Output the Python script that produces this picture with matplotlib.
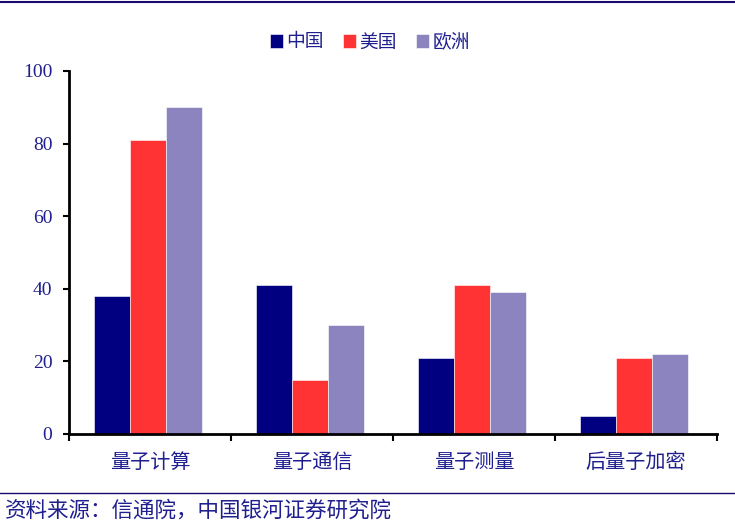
import numpy as np
import matplotlib
matplotlib.use("Agg")
import matplotlib.pyplot as plt
from matplotlib.lines import Line2D

# --- Data ---
categories = ["量子计算", "量子通信", "量子测量", "后量子加密"]
series_names = ["中国", "美国", "欧洲"]
china = [38, 41, 21, 5]
usa = [81, 15, 41, 21]
europe = [90, 30, 39, 22]
y_ticks = [0, 20, 40, 60, 80, 100]

colors = ["#000080", "#FF3333", "#8B84BF"]
text_color = "#1F1F8F"
cjk = ["Noto Sans CJK SC", "DejaVu Sans"]

fig = plt.figure(figsize=(7.35, 5.27), dpi=100)
ax = fig.add_axes([69 / 735, 1 - 434 / 527, (717 - 69) / 735, (434 - 71) / 527])

x = np.arange(len(categories))
w = 0.222
for i, (vals, name) in enumerate(zip([china, usa, europe], series_names)):
    ax.bar(x - 0.01 + (i - 1) * w, vals, width=w, color=colors[i], label=name,
           edgecolor="white", linewidth=0.4)

ax.set_xlim(-0.5, len(categories) - 0.5)
ax.set_ylim(0, 100)
ax.set_yticks(y_ticks)
ax.set_yticklabels([str(v) for v in y_ticks], fontfamily="Liberation Serif",
                   fontsize=14, color=text_color)
# category ticks sit on the boundaries, labels in between
ax.set_xticks(np.arange(len(categories) + 1) - 0.5)
ax.set_xticklabels([])
ax.set_xticks(x, minor=True)
ax.set_xticklabels(categories, minor=True, fontfamily=cjk, fontsize=14.5, color=text_color)
ax.tick_params(axis="x", which="minor", length=0, pad=13)
ax.tick_params(axis="x", which="major", direction="out", length=5, width=1.5)
ax.tick_params(axis="y", direction="out", length=4, width=1.5, pad=8)

for s in ["top", "right"]:
    ax.spines[s].set_visible(False)
for s in ["left", "bottom"]:
    ax.spines[s].set_linewidth(2)
    ax.spines[s].set_color("black")

leg = fig.legend(loc="center", bbox_to_anchor=(370 / 735, 1 - 42 / 527), ncol=3,
                 frameon=False, prop={"family": cjk, "size": 13.5},
                 handlelength=0.7, handleheight=0.7, handletextpad=0.2,
                 columnspacing=1.0)
for t in leg.get_texts():
    t.set_color(text_color)

# header and footer rules
fig.add_artist(Line2D([0, 1], [1 - 2 / 527, 1 - 2 / 527], color="#1A0A6E", linewidth=1.5))
fig.add_artist(Line2D([0, 1], [1 - 493 / 527, 1 - 493 / 527], color="#1A0A6E", linewidth=1.0))

fig.text(5 / 735, 1 - 511 / 527, "资料来源：信通院，中国银河证券研究院", fontfamily=cjk,
         fontsize=15.5, color=text_color, style="italic", va="center", ha="left")

fig.savefig("out.png", dpi=100)
